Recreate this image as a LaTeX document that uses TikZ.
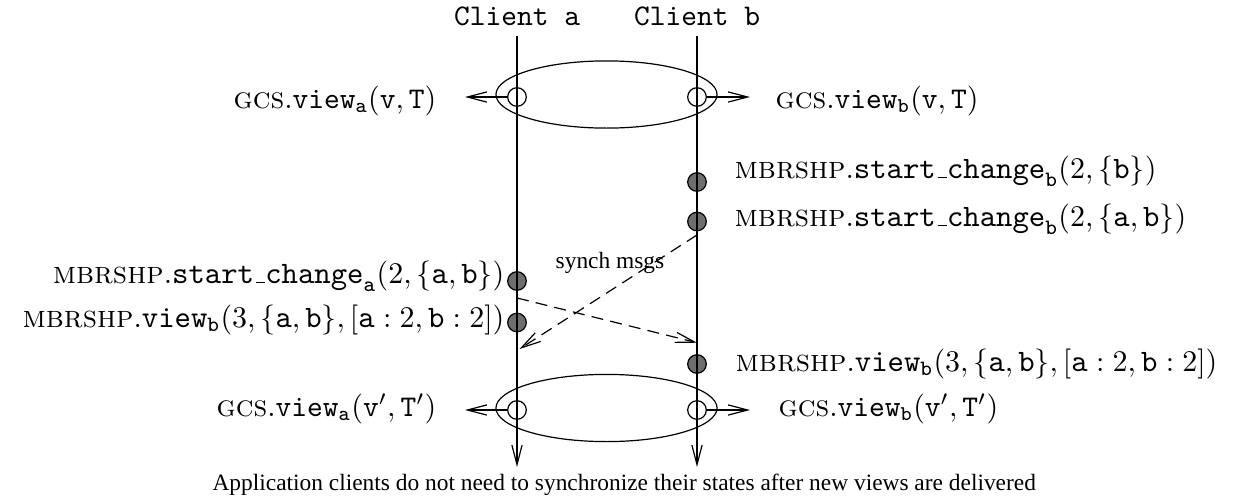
\documentclass[tikz,border=0pt]{standalone}
\usepackage{fontspec}
\newfontfamily\timesfont{Liberation Serif}
\usetikzlibrary{arrows.meta,shapes.geometric}

% names of the services and of the membership events
\newcommand{\gcsname}{\mbox{\textsc{gcs}}}
\newcommand{\mbrname}{\mbox{\textsc{mbrshp}}}
\newcommand{\usc}{\mbox{\kern.06em\rule{.3em}{.4pt}}}
\newcommand{\stch}{\mathtt{start}\usc\mathtt{change}}
\newcommand{\vw}{\mathtt{view}}
\newcommand{\ttt}[1]{\mathtt{#1}}

\begin{document}
\begin{tikzpicture}[x=0.33333pt,y=-0.33333pt,
  thinline/.style={line width=0.4pt},
  barb/.style={-{Straight Barb[length=6.5pt,width=3.4pt]}},
  hole/.style={circle,draw,thinline,inner sep=0pt,minimum size=6.2pt},
  event/.style={circle,draw,thinline,fill=black!57,inner sep=0pt,minimum size=6.2pt},
  group/.style={ellipse,draw,thinline,inner sep=0pt,minimum width=73.7pt,minimum height=22.4pt},
  lbl/.style={inner sep=0pt,font=\normalsize},
  mlbl/.style={inner sep=0pt,font=\fontsize{10.4}{12}\selectfont},
  msg/.style={thinline,barb,dash pattern=on 4pt off 2.4pt},
  note/.style={inner sep=0pt,font=\timesfont\fontsize{7.8}{9}\selectfont}]

\useasboundingbox (0,0) rectangle (1243,499);

% client timelines
\coordinate (atop) at (517,36);
\coordinate (abot) at (517,467);
\coordinate (btop) at (697,36);
\coordinate (bbot) at (697,467);

\node[lbl,anchor=base] (ca) at (517,25) {\texttt{Client a}};
\node[lbl,anchor=base] (cb) at (697,25) {\texttt{Client b}};

% group views delivered by GCS
\node[group] (g1) at (606.5,94.5) {};
\node[group] (g2) at (606.5,408) {};

% membership events
\node[event] (eb1) at (697,182) {};
\node[event] (eb2) at (697,221.5) {};
\node[event] (ea1) at (517,281) {};
\node[event] (ea2) at (517,322.5) {};
\node[event] (eb3) at (697,364) {};

\draw[thinline,barb] (atop) -- (abot);
\draw[thinline,barb] (btop) -- (bbot);

\node[hole] (va1) at (517,97) {};
\node[hole] (vb1) at (697,97) {};
\node[hole] (va2) at (517,410) {};
\node[hole] (vb2) at (697,410) {};

% view delivery to the application
\coordinate (ta1) at (465,97);
\coordinate (tb1) at (750,97);
\coordinate (ta2) at (465,410);
\coordinate (tb2) at (750,410);
\draw[thinline,barb] (va1.west) -- (ta1);
\draw[thinline,barb] (vb1.east) -- (tb1);
\draw[thinline,barb] (va2.west) -- (ta2);
\draw[thinline,barb] (vb2.east) -- (tb2);

\node[lbl,anchor=base east] (la1) at (437,108) {$\gcsname.\vw_{\ttt{a}}(\ttt{v},\ttt{T})$};
\node[lbl,anchor=base west] (lb1) at (775,108) {$\gcsname.\vw_{\ttt{b}}(\ttt{v},\ttt{T})$};
\node[lbl,anchor=base east] (la2) at (437,416) {$\gcsname.\vw_{\ttt{a}}(\ttt{v}',\ttt{T}')$};
\node[lbl,anchor=base west] (lb2) at (778,416) {$\gcsname.\vw_{\ttt{b}}(\ttt{v}',\ttt{T}')$};

\node[mlbl,anchor=base west] (mb1) at (734,178) {$\mbrname.\stch_{\ttt{b}}(2,\{\ttt{b}\})$};
\node[mlbl,anchor=base west] (mb2) at (734,226) {$\mbrname.\stch_{\ttt{b}}(2,\{\ttt{a},\ttt{b}\})$};
\node[mlbl,anchor=base east] (ma1) at (505,283) {$\mbrname.\stch_{\ttt{a}}(2,\{\ttt{a},\ttt{b}\})$};
\node[mlbl,anchor=base east] (ma2) at (505,327) {$\mbrname.\vw_{\ttt{b}}(3,\{\ttt{a},\ttt{b}\},[\ttt{a}:2,\ttt{b}:2])$};
\node[mlbl,anchor=base west] (mb3) at (735,371) {$\mbrname.\vw_{\ttt{b}}(3,\{\ttt{a},\ttt{b}\},[\ttt{a}:2,\ttt{b}:2])$};

% synchronization messages
\coordinate (sb) at (697,235);
\coordinate (sa) at (519.5,349);
\coordinate (sa0) at (517,298);
\coordinate (sb0) at (697,342.7);
\draw[msg] (sb) -- (sa);
\draw[msg] (sa0) -- (sb0);
\node[note] (sm) at (610,262.7) {synch msgs};

\node[note,anchor=base west] (cap) at (212,490)
  {Application clients do not need to synchronize their states after new views are delivered};
\end{tikzpicture}
\end{document}
